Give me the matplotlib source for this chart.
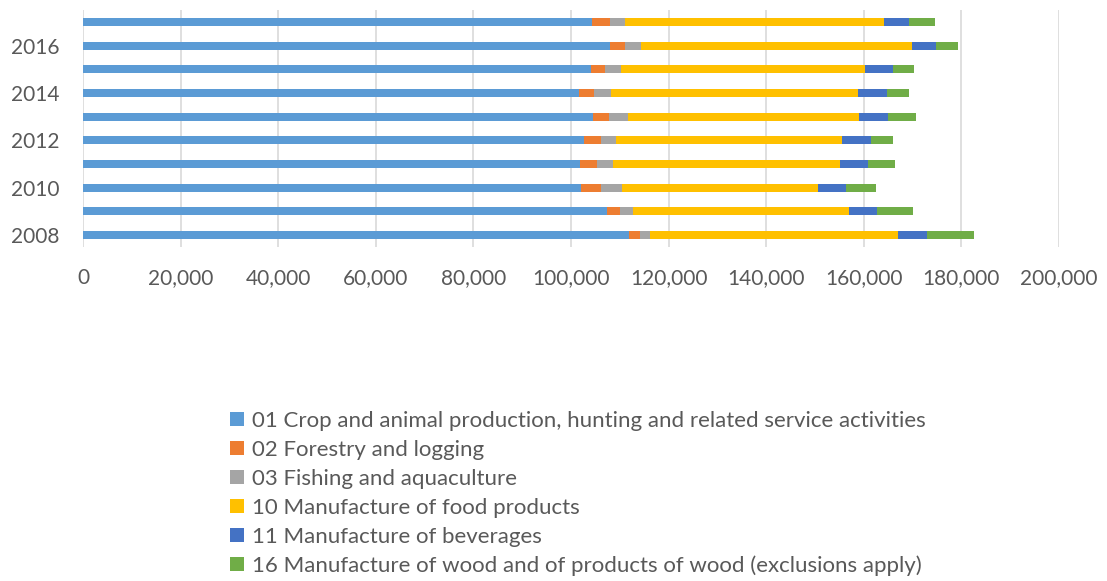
import matplotlib
matplotlib.use("Agg")
import matplotlib.pyplot as plt
from matplotlib.patches import Patch
from matplotlib.ticker import FuncFormatter
import numpy as np

years = [2008, 2009, 2010, 2011, 2012, 2013, 2014, 2015, 2016, 2017]
series_names = [
    "01 Crop and animal production, hunting and related service activities",
    "02 Forestry and logging",
    "03 Fishing and aquaculture",
    "10 Manufacture of food products",
    "11 Manufacture of beverages",
    "16 Manufacture of wood and of products of wood (exclusions apply)",
]
crop = [111890, 107450, 102050, 101840, 102600, 104440, 101700, 104100, 108000, 104370]
forestry = [2310, 2590, 4160, 3560, 3550, 3350, 3080, 2930, 3070, 3630]
fishing = [2050, 2730, 4240, 3270, 3140, 3890, 3420, 3280, 3270, 3130]
food = [50760, 44260, 40160, 46520, 46240, 47340, 50680, 49870, 55470, 53010]
beverages = [6010, 5670, 5810, 5740, 6010, 5940, 5940, 5870, 5050, 5190]
wood = [9560, 7380, 6080, 5460, 4440, 5800, 4440, 4240, 4440, 5260]
colors = ["#5B9BD5", "#ED7D31", "#A5A5A5", "#FFC000", "#4472C4", "#70AD47"]

plt.rcParams['font.family'] = ['Lato', 'DejaVu Sans']
txt = "#595959"

fig = plt.figure(figsize=(11.07, 5.81), dpi=100)
ax = fig.add_axes([83/1107, 1-247/581, (1059-83)/1107, (247-10)/581])

data = [crop, forestry, fishing, food, beverages, wood]
y = np.arange(len(years))
left = np.zeros(len(years))
for vals, c in zip(data, colors):
    ax.barh(y, vals, left=left, height=0.34, color=c, zorder=3)
    left += np.array(vals)

ax.set_xlim(0, 200000)
ax.set_ylim(-0.5, len(years) - 0.5)
ax.set_xticks(np.arange(0, 200001, 20000))
ax.xaxis.set_major_formatter(FuncFormatter(lambda v, p: f"{int(v):,}"))
ax.set_yticks(y[::2])
ax.set_yticklabels([str(v) for v in years[::2]])
ax.grid(axis='x', color="#D9D9D9", linewidth=1.2, zorder=0)
for s in ax.spines.values():
    s.set_visible(False)
ax.tick_params(axis='both', length=0, labelsize=15, colors=txt)
ax.tick_params(axis='x', pad=15)
ax.tick_params(axis='y', pad=17)

handles = [Patch(facecolor=c, edgecolor='none') for c in colors]
fig.legend(handles, series_names, loc='upper left', bbox_to_anchor=(230/1107, 1-411/581),
           frameon=False, fontsize=16, labelcolor=txt, handlelength=0.62, handleheight=0.62,
           handletextpad=0.35, labelspacing=0.4, borderpad=0, borderaxespad=0)

fig.savefig("out.png", dpi=100)
